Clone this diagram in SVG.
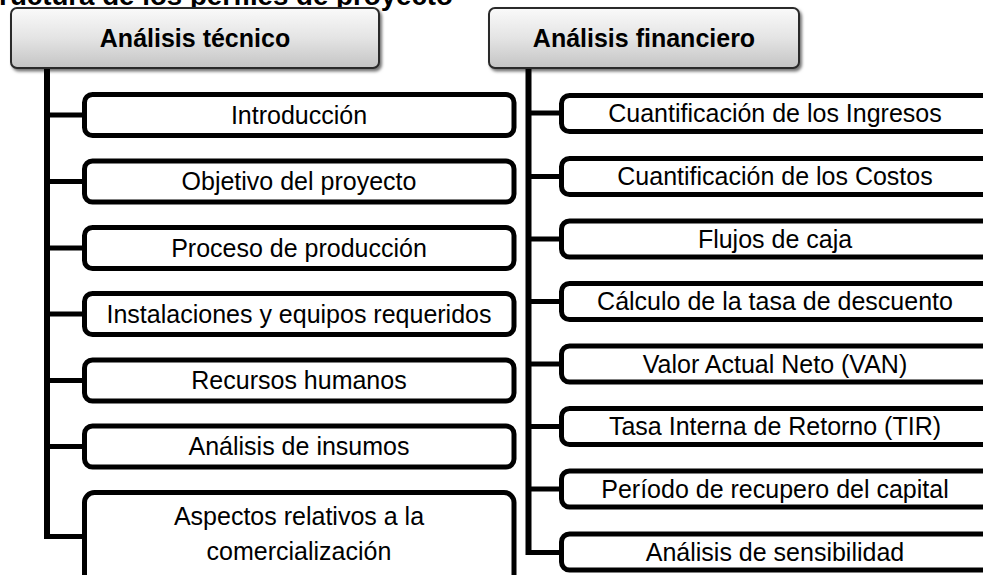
<svg xmlns="http://www.w3.org/2000/svg" width="983" height="575" viewBox="0 0 983 575">
<defs>
<linearGradient id="hg" x1="0" y1="0" x2="0" y2="1">
<stop offset="0" stop-color="#fafafa"/>
<stop offset="0.5" stop-color="#e4e4e4"/>
<stop offset="1" stop-color="#c4c4c4"/>
</linearGradient>
<filter id="sh" x="-5%" y="-10%" width="115%" height="130%">
<feDropShadow dx="2" dy="2.5" stdDeviation="1.5" flood-color="#000" flood-opacity="0.55"/>
</filter>
<style>
.hdr{fill:url(#hg);stroke:#2a2a2a;stroke-width:2;filter:url(#sh)}
.box{fill:#fff;stroke:#000;stroke-width:5}
.ht{font-family:"Liberation Sans",Arial,sans-serif;font-size:25px;font-weight:bold;fill:#000;text-anchor:middle}
.bt{font-family:"Liberation Sans",Arial,sans-serif;font-size:25px;fill:#000;text-anchor:middle}
.title{font-family:"Liberation Sans",Arial,sans-serif;font-size:27.7px;font-weight:bold;fill:#000;text-anchor:end}
.ln{fill:none;stroke:#000;stroke-width:5;stroke-linejoin:miter}
.tr{fill:none;stroke:#000;stroke-width:6}
</style>
</defs>
<rect width="983" height="575" fill="#fff"/>
<text class="title" x="453" y="5">Estructura de los perfiles de proyecto</text>

<g id="connectors">
<path class="tr" d="M47,69 V539"/>
<path class="ln" d="M44,536.5 H84"/>
<path class="ln" d="M47,115 H84 M47,181.5 H84 M47,248 H84 M47,314 H84 M47,380.5 H84 M47,446.5 H84"/>
<path class="tr" d="M528.5,69 V555"/>
<path class="ln" d="M526,552.5 H562"/>
<path class="ln" d="M528.5,113 H562 M528.5,176.5 H562 M528.5,239 H562 M528.5,301.5 H562 M528.5,364 H562 M528.5,426.5 H562 M528.5,489 H562"/>
</g>

<g id="h-tecnico">
<rect class="hdr" x="11" y="8" width="368" height="60" rx="6"/>
<text class="ht" x="195" y="47">Análisis técnico</text>
</g>
<g id="h-financiero">
<rect class="hdr" x="489" y="8" width="310" height="60" rx="6"/>
<text class="ht" x="644" y="47">Análisis financiero</text>
</g>

<g id="t1"><rect class="box" x="84.5" y="94.5" width="429.5" height="41" rx="8"/><text class="bt" x="299" y="123.5">Introducción</text></g>
<g id="t2"><rect class="box" x="84.5" y="161" width="429.5" height="41" rx="8"/><text class="bt" x="299" y="190">Objetivo del proyecto</text></g>
<g id="t3"><rect class="box" x="84.5" y="227.5" width="429.5" height="41" rx="8"/><text class="bt" x="299" y="256.5">Proceso de producción</text></g>
<g id="t4"><rect class="box" x="84.5" y="293.5" width="429.5" height="41" rx="8"/><text class="bt" x="299" y="322.5">Instalaciones y equipos requeridos</text></g>
<g id="t5"><rect class="box" x="84.5" y="360" width="429.5" height="41" rx="8"/><text class="bt" x="299" y="389">Recursos humanos</text></g>
<g id="t6"><rect class="box" x="84.5" y="426" width="429.5" height="41" rx="8"/><text class="bt" x="299" y="455">Análisis de insumos</text></g>
<g id="t7"><rect class="box" x="84.5" y="492.5" width="429.5" height="92" rx="10"/><text class="bt" x="299" y="525">Aspectos relativos a la</text><text class="bt" x="299" y="560">comercialización</text></g>

<g id="f1"><rect class="box" x="561.5" y="95.5" width="430" height="36" rx="8"/><text class="bt" x="775" y="121.5">Cuantificación de los Ingresos</text></g>
<g id="f2"><rect class="box" x="561.5" y="158.5" width="430" height="36" rx="8"/><text class="bt" x="775" y="185">Cuantificación de los Costos</text></g>
<g id="f3"><rect class="box" x="561.5" y="221" width="430" height="36" rx="8"/><text class="bt" x="775" y="247.5">Flujos de caja</text></g>
<g id="f4"><rect class="box" x="561.5" y="283.5" width="430" height="36" rx="8"/><text class="bt" x="775" y="310">Cálculo de la tasa de descuento</text></g>
<g id="f5"><rect class="box" x="561.5" y="346" width="430" height="36" rx="8"/><text class="bt" x="775" y="372.5">Valor Actual Neto (VAN)</text></g>
<g id="f6"><rect class="box" x="561.5" y="408.5" width="430" height="36" rx="8"/><text class="bt" x="775" y="435">Tasa Interna de Retorno (TIR)</text></g>
<g id="f7"><rect class="box" x="561.5" y="471" width="430" height="36" rx="8"/><text class="bt" x="775" y="497.5">Período de recupero del capital</text></g>
<g id="f8"><rect class="box" x="561.5" y="534" width="430" height="36" rx="8"/><text class="bt" x="775" y="560.5">Análisis de sensibilidad</text></g>
</svg>
